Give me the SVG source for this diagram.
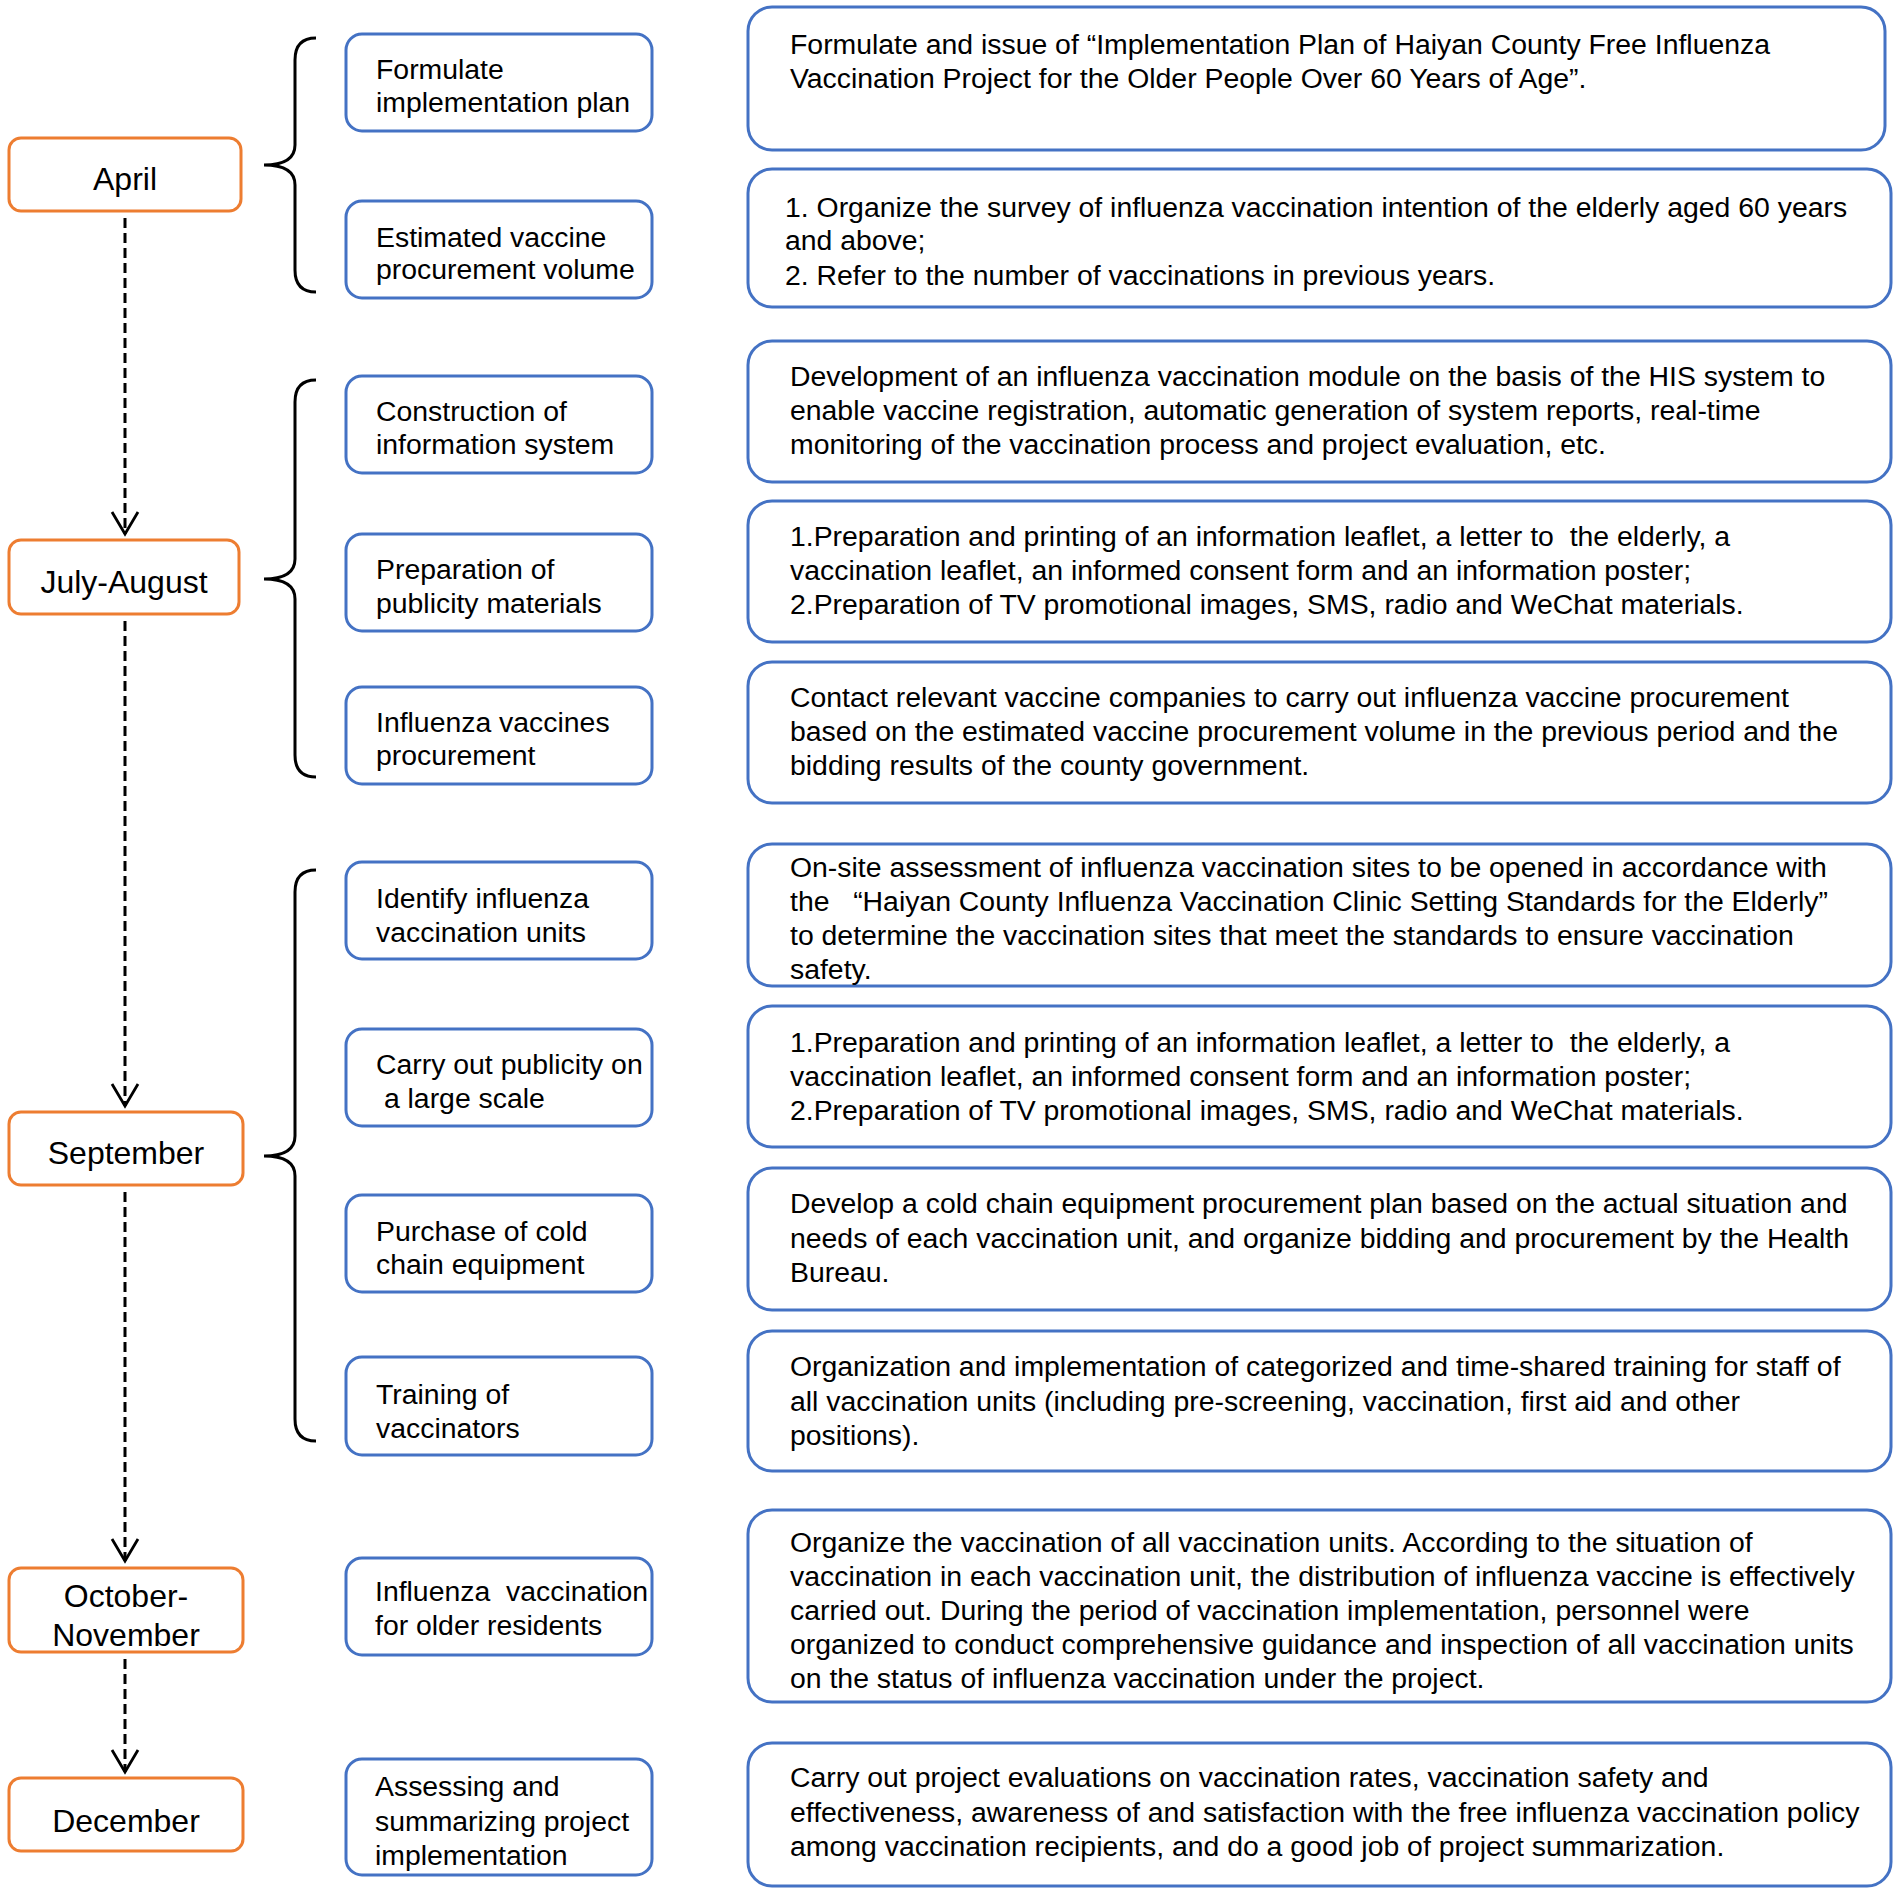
<svg xmlns="http://www.w3.org/2000/svg" width="1902" height="1894" viewBox="0 0 1902 1894">
<style>
text{font-family:"Liberation Sans",Arial,sans-serif;fill:#000;white-space:pre}
.m{font-size:32px;text-anchor:middle}
.t{font-size:28.4px}
.mon{fill:#fff;stroke:#ED7D31;stroke-width:3}
.mid{fill:#fff;stroke:#4472C4;stroke-width:3}
.desc{fill:#fff;stroke:#4472C4;stroke-width:3}
.brace{fill:none;stroke:#000;stroke-width:3}
.arr{fill:none;stroke:#000;stroke-width:3;stroke-dasharray:10 5}
</style>
<defs>
<marker id="ah" markerUnits="userSpaceOnUse" markerWidth="40" markerHeight="40" refX="0" refY="0" viewBox="-30 -20 40 40" orient="auto" overflow="visible">
<path d="M-22,-13 L0,0 L-22,13" fill="none" stroke="#000" stroke-width="2.8" stroke-dasharray="none"/>
</marker>
</defs>
<rect width="1902" height="1894" fill="#fff"/>
<g id="connectors">
<line class="arr" x1="125" y1="218" x2="125" y2="534" marker-end="url(#ah)"/>
<line class="arr" x1="125" y1="621" x2="125" y2="1106" marker-end="url(#ah)"/>
<line class="arr" x1="125" y1="1192" x2="125" y2="1561" marker-end="url(#ah)"/>
<line class="arr" x1="125" y1="1659" x2="125" y2="1772" marker-end="url(#ah)"/>
<path class="brace" d="M316,38 Q295,38 295,60 L295,145 Q295,165 264,165 Q295,165 295,185 L295,270 Q295,292 316,292"/>
<path class="brace" d="M316,380 Q295,380 295,402 L295,559 Q295,579 264,579 Q295,579 295,599 L295,755 Q295,777 316,777"/>
<path class="brace" d="M316,870 Q295,870 295,892 L295,1136 Q295,1156 264,1156 Q295,1156 295,1176 L295,1419 Q295,1441 316,1441"/>
</g>
<g id="april"><rect class="mon" x="9" y="138" width="232" height="73" rx="12"/><text class="m" x="125" y="190">April</text></g>
<g id="july-august"><rect class="mon" x="9" y="540" width="230" height="74" rx="12"/><text class="m" x="124" y="593">July-August</text></g>
<g id="september"><rect class="mon" x="9" y="1112" width="234" height="73" rx="12"/><text class="m" x="126" y="1164">September</text></g>
<g id="october-november"><rect class="mon" x="9" y="1568" width="234" height="84" rx="12"/><text class="m" x="126" y="1607">October-</text><text class="m" x="126" y="1646">November</text></g>
<g id="december"><rect class="mon" x="9" y="1778" width="234" height="73" rx="12"/><text class="m" x="126" y="1832">December</text></g>

<g id="s1"><rect class="mid" x="346" y="34" width="306" height="97" rx="16"/><text class="t" x="376" y="79">Formulate</text><text class="t" x="376" y="112">implementation plan</text></g>
<g id="s2"><rect class="mid" x="346" y="201" width="306" height="97" rx="16"/><text class="t" x="376" y="247">Estimated vaccine</text><text class="t" x="376" y="279">procurement volume</text></g>
<g id="s3"><rect class="mid" x="346" y="376" width="306" height="97" rx="16"/><text class="t" x="376" y="421">Construction of</text><text class="t" x="376" y="454">information system</text></g>
<g id="s4"><rect class="mid" x="346" y="534" width="306" height="97" rx="16"/><text class="t" x="376" y="579">Preparation of</text><text class="t" x="376" y="613">publicity materials</text></g>
<g id="s5"><rect class="mid" x="346" y="687" width="306" height="97" rx="16"/><text class="t" x="376" y="732">Influenza vaccines</text><text class="t" x="376" y="765">procurement</text></g>
<g id="s6"><rect class="mid" x="346" y="862" width="306" height="97" rx="16"/><text class="t" x="376" y="908">Identify influenza</text><text class="t" x="376" y="942">vaccination units</text></g>
<g id="s7"><rect class="mid" x="346" y="1029" width="306" height="97" rx="16"/><text class="t" x="376" y="1074">Carry out publicity on</text><text class="t" x="376" y="1108"> a large scale</text></g>
<g id="s8"><rect class="mid" x="346" y="1195" width="306" height="97" rx="16"/><text class="t" x="376" y="1241">Purchase of cold</text><text class="t" x="376" y="1274">chain equipment</text></g>
<g id="s9"><rect class="mid" x="346" y="1357" width="306" height="98" rx="16"/><text class="t" x="376" y="1404">Training of</text><text class="t" x="376" y="1438">vaccinators</text></g>
<g id="s10"><rect class="mid" x="346" y="1558" width="306" height="97" rx="16"/><text class="t" x="375" y="1601">Influenza  vaccination</text><text class="t" x="375" y="1635">for older residents</text></g>
<g id="s11"><rect class="mid" x="346" y="1759" width="306" height="116" rx="16"/><text class="t" x="375" y="1796">Assessing and</text><text class="t" x="375" y="1831">summarizing project</text><text class="t" x="375" y="1865">implementation</text></g>

<g id="d1"><rect class="desc" x="748" y="7" width="1137" height="143" rx="24"/><text class="t" x="790" y="54">Formulate and issue of “Implementation Plan of Haiyan County Free Influenza</text><text class="t" x="790" y="88">Vaccination Project for the Older People Over 60 Years of Age”.</text></g>
<g id="d2"><rect class="desc" x="748" y="169" width="1143" height="138" rx="24"/><text class="t" x="785" y="217">1. Organize the survey of influenza vaccination intention of the elderly aged 60 years</text><text class="t" x="785" y="250">and above;</text><text class="t" x="785" y="285">2. Refer to the number of vaccinations in previous years.</text></g>
<g id="d3"><rect class="desc" x="748" y="341" width="1143" height="141" rx="24"/><text class="t" x="790" y="386">Development of an influenza vaccination module on the basis of the HIS system to</text><text class="t" x="790" y="420">enable vaccine registration, automatic generation of system reports, real-time</text><text class="t" x="790" y="454">monitoring of the vaccination process and project evaluation, etc.</text></g>
<g id="d4"><rect class="desc" x="748" y="501" width="1143" height="141" rx="24"/><text class="t" x="790" y="546">1.Preparation and printing of an information leaflet, a letter to  the elderly, a</text><text class="t" x="790" y="580">vaccination leaflet, an informed consent form and an information poster;</text><text class="t" x="790" y="614">2.Preparation of TV promotional images, SMS, radio and WeChat materials.</text></g>
<g id="d5"><rect class="desc" x="748" y="662" width="1143" height="141" rx="24"/><text class="t" x="790" y="707">Contact relevant vaccine companies to carry out influenza vaccine procurement</text><text class="t" x="790" y="741">based on the estimated vaccine procurement volume in the previous period and the</text><text class="t" x="790" y="775">bidding results of the county government.</text></g>
<g id="d6"><rect class="desc" x="748" y="844" width="1143" height="142" rx="24"/><text class="t" x="790" y="877">On-site assessment of influenza vaccination sites to be opened in accordance with</text><text class="t" x="790" y="911">the   “Haiyan County Influenza Vaccination Clinic Setting Standards for the Elderly”</text><text class="t" x="790" y="945">to determine the vaccination sites that meet the standards to ensure vaccination</text><text class="t" x="790" y="979">safety.</text></g>
<g id="d7"><rect class="desc" x="748" y="1006" width="1143" height="141" rx="24"/><text class="t" x="790" y="1052">1.Preparation and printing of an information leaflet, a letter to  the elderly, a</text><text class="t" x="790" y="1086">vaccination leaflet, an informed consent form and an information poster;</text><text class="t" x="790" y="1120">2.Preparation of TV promotional images, SMS, radio and WeChat materials.</text></g>
<g id="d8"><rect class="desc" x="748" y="1168" width="1143" height="142" rx="24"/><text class="t" x="790" y="1213">Develop a cold chain equipment procurement plan based on the actual situation and</text><text class="t" x="790" y="1248">needs of each vaccination unit, and organize bidding and procurement by the Health</text><text class="t" x="790" y="1282">Bureau.</text></g>
<g id="d9"><rect class="desc" x="748" y="1331" width="1143" height="140" rx="24"/><text class="t" x="790" y="1376">Organization and implementation of categorized and time-shared training for staff of</text><text class="t" x="790" y="1411">all vaccination units (including pre-screening, vaccination, first aid and other</text><text class="t" x="790" y="1445">positions).</text></g>
<g id="d10"><rect class="desc" x="748" y="1510" width="1143" height="192" rx="24"/><text class="t" x="790" y="1552">Organize the vaccination of all vaccination units. According to the situation of</text><text class="t" x="790" y="1586">vaccination in each vaccination unit, the distribution of influenza vaccine is effectively</text><text class="t" x="790" y="1620">carried out. During the period of vaccination implementation, personnel were</text><text class="t" x="790" y="1654">organized to conduct comprehensive guidance and inspection of all vaccination units</text><text class="t" x="790" y="1688">on the status of influenza vaccination under the project.</text></g>
<g id="d11"><rect class="desc" x="748" y="1743" width="1143" height="143" rx="24"/><text class="t" x="790" y="1787">Carry out project evaluations on vaccination rates, vaccination safety and</text><text class="t" x="790" y="1822">effectiveness, awareness of and satisfaction with the free influenza vaccination policy</text><text class="t" x="790" y="1856">among vaccination recipients, and do a good job of project summarization.</text></g>
</svg>
